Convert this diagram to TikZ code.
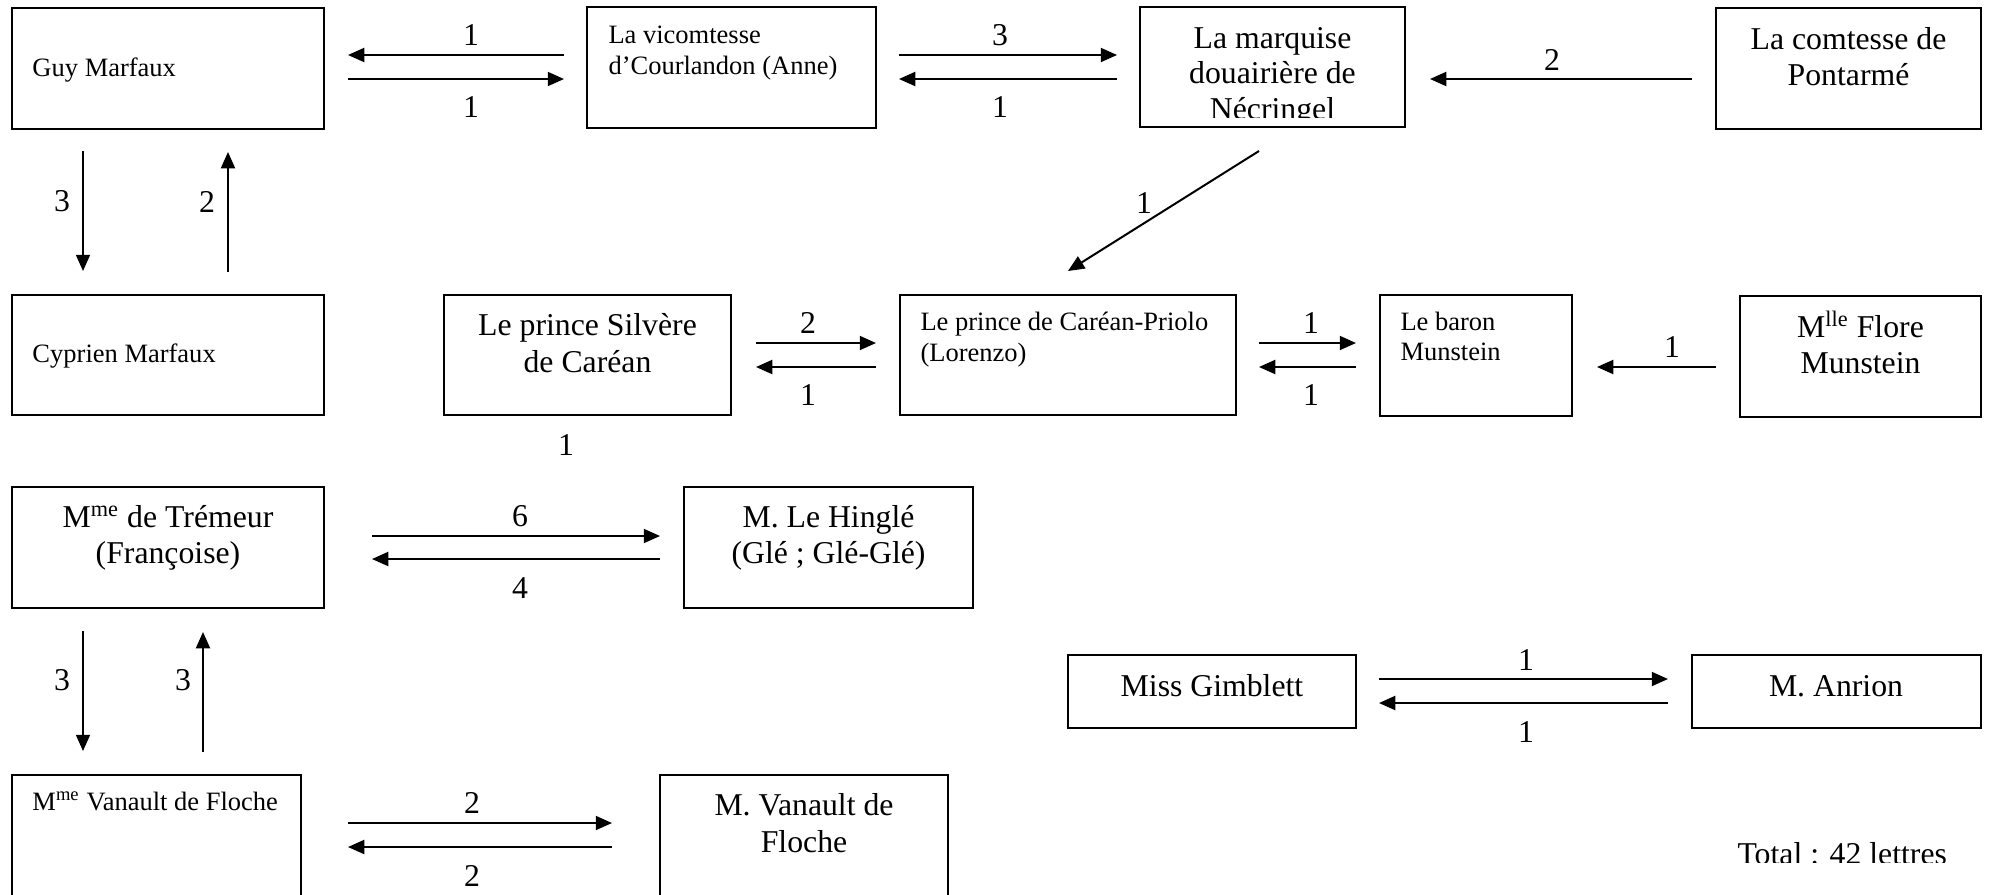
\documentclass[tikz,border=0pt]{standalone}
\usepackage{fontspec}
\setmainfont{Liberation Serif}
\usetikzlibrary{arrows.meta,calc,fit}

\begin{document}
\begin{tikzpicture}[x=0.4pt,y=-0.4pt,
  box/.style={draw, line width=0.8pt, inner sep=0pt, outer sep=0pt},
  arr/.style={line width=0.8pt, -{Triangle[length=6.5pt,width=5.6pt]}},
  sm/.style={inner sep=0pt, font=\fontsize{10.6}{12.4}\selectfont},
  lg/.style={inner sep=0pt, font=\fontsize{12.7}{14}\selectfont},
  num/.style={lg, anchor=base},
]
\useasboundingbox (0,0) rectangle (1991,894);
\clip (0,0) rectangle (1991,894);

% ---- boxes ----
\node[box, fit={(12,8) (324,129)}]     (guy)   {};
\node[box, fit={(587,7) (876,128)}]    (vic)   {};
\node[box, fit={(1140,7) (1405,127)}]  (marq)  {};
\node[box, fit={(1716,8) (1981,129)}]  (comt)  {};
\node[box, fit={(12,295) (324,415)}]   (cyp)   {};
\node[box, fit={(444,295) (731,415)}]  (silv)  {};
\node[box, fit={(900,295) (1236,415)}] (prio)  {};
\node[box, fit={(1380,295) (1572,416)}] (baron) {};
\node[box, fit={(1740,296) (1981,417)}] (flore) {};
\node[box, fit={(12,487) (324,608)}]   (trem)  {};
\node[box, fit={(684,487) (973,608)}]  (hing)  {};
\node[box, fit={(12,775) (301,920)}]   (mvan)  {};
\node[box, fit={(660,775) (948,920)}]  (vand)  {};
\node[box, fit={(1068,655) (1356,728)}] (miss) {};
\node[box, fit={(1692,655) (1981,728)}] (anr)  {};

% ---- box texts ----
\node[sm, anchor=base west] (guyA) at (32,76) {Guy Marfaux};
\node[sm, anchor=base west] (vicA) at (608,43) {La vicomtesse};
\node[sm, anchor=base west] (vicB) at (608,74) {d’Courlandon (Anne)};
\node[lg, anchor=base] (marqA) at (1272.5,48) {La marquise};
\node[lg, anchor=base] (marqB) at (1272.5,83) {douairière de};
\begin{scope}
  \clip (1140,7) rectangle (1405,117);
  \node[lg, anchor=base] (marqC) at (1272.5,119) {Nécringel};
\end{scope}
\node[lg, anchor=base] (comtA) at (1848.5,49) {La comtesse de};
\node[lg, anchor=base] (comtB) at (1848.5,85) {Pontarmé};
\node[sm, anchor=base west] (cypA) at (32,362) {Cyprien Marfaux};
\node[lg, anchor=base] (silvA) at (587.5,335) {Le prince Silvère};
\node[lg, anchor=base] (silvB) at (587.5,372) {de Caréan};
\node[sm, anchor=base west] (prioA) at (920,330) {Le prince de Caréan-Priolo};
\node[sm, anchor=base west] (prioB) at (920,361) {(Lorenzo)};
\node[sm, anchor=base west] (baronA) at (1400,330) {Le baron};
\node[sm, anchor=base west] (baronB) at (1400,360) {Munstein};
\node[lg, anchor=base] (floreA) at (1860.5,337) {M\textsuperscript{lle} Flore};
\node[lg, anchor=base] (floreB) at (1860.5,373) {Munstein};
\node[lg, anchor=base] (tremA) at (168,527) {M\textsuperscript{me} de Trémeur};
\node[lg, anchor=base] (tremB) at (168,563) {(Françoise)};
\node[lg, anchor=base] (hingA) at (828.5,527) {M. Le Hinglé};
\node[lg, anchor=base] (hingB) at (828.5,563) {(Glé ; Glé-Glé)};
\node[sm, anchor=base west] (mvanA) at (32,810) {M\textsuperscript{me} Vanault de Floche};
\node[lg, anchor=base] (vandA) at (804,815) {M. Vanault de};
\node[lg, anchor=base] (vandB) at (804,852) {Floche};
\node[lg, anchor=base] (missA) at (1212,696) {Miss Gimblett};
\node[lg, anchor=base] (anrA) at (1836,696) {M. Anrion};
\begin{scope}
  \clip (1700,830) rectangle (1991,862);
  \node[lg, anchor=base west] (total) at (1737,864) {Total : 42 lettres};
\end{scope}

% ---- connectors ----
% Guy Marfaux <-> vicomtesse
\draw[arr] ($(vic.west |- 0,55)+(-23,0)$) -- ($(guy.east |- 0,55)+(24,0)$);
\draw[arr] ($(guy.east |- 0,79)+(24,0)$) -- ($(vic.west |- 0,79)+(-23,0)$);
\node[num] (n1) at (471,45) {1};
\node[num] (n2) at (471,117) {1};
% vicomtesse <-> marquise
\draw[arr] ($(vic.east |- 0,55)+(23,0)$) -- ($(marq.west |- 0,55)+(-23,0)$);
\draw[arr] ($(marq.west |- 0,79)+(-23,0)$) -- ($(vic.east |- 0,79)+(23,0)$);
\node[num] (n3) at (1000,45) {3};
\node[num] (n4) at (1000,117) {1};
% comtesse -> marquise
\draw[arr] ($(comt.west |- 0,79)+(-24,0)$) -- ($(marq.east |- 0,79)+(25,0)$);
\node[num] (n5) at (1552,70) {2};
% marquise -> prince de Caréan-Priolo
\draw[arr] ($(marq.south)+(-13.5,24)$) -- ($(prio.north)+(0,-24)$);
\node[num] (n6) at (1144,213) {1};
% Guy <-> Cyprien
\draw[arr] ($(guy.south -| 83,0)+(0,22)$) -- ($(cyp.north -| 83,0)+(0,-24)$);
\draw[arr] ($(cyp.north -| 228,0)+(0,-23)$) -- ($(guy.south -| 228,0)+(0,23)$);
\node[num] (n7) at (62,211) {3};
\node[num] (n8) at (207,212) {2};
% Silvère <-> Priolo
\draw[arr] ($(silv.east |- 0,343)+(25,0)$) -- ($(prio.west |- 0,343)+(-24,0)$);
\draw[arr] ($(prio.west |- 0,367)+(-24,0)$) -- ($(silv.east |- 0,367)+(25,0)$);
\node[num] (n9) at (808,333) {2};
\node[num] (n10) at (808,405) {1};
\node[num] (n11) at (566,455) {1};
% Priolo <-> baron
\draw[arr] ($(prio.east |- 0,343)+(23,0)$) -- ($(baron.west |- 0,343)+(-24,0)$);
\draw[arr] ($(baron.west |- 0,367)+(-24,0)$) -- ($(prio.east |- 0,367)+(23,0)$);
\node[num] (n12) at (1311,333) {1};
\node[num] (n13) at (1311,405) {1};
% Flore -> baron
\draw[arr] ($(flore.west |- 0,367)+(-24,0)$) -- ($(baron.east |- 0,367)+(25,0)$);
\node[num] (n14) at (1672,357) {1};
% Trémeur <-> Hinglé
\draw[arr] ($(trem.east |- 0,536)+(48,0)$) -- ($(hing.west |- 0,536)+(-24,0)$);
\draw[arr] ($(hing.west |- 0,559)+(-24,0)$) -- ($(trem.east |- 0,559)+(48,0)$);
\node[num] (n15) at (520,526) {6};
\node[num] (n16) at (520,598) {4};
% Trémeur <-> Mme Vanault
\draw[arr] ($(trem.south -| 83,0)+(0,23)$) -- ($(mvan.north -| 83,0)+(0,-24)$);
\draw[arr] ($(mvan.north -| 203,0)+(0,-23)$) -- ($(trem.south -| 203,0)+(0,24)$);
\node[num] (n17) at (62,690) {3};
\node[num] (n18) at (183,690) {3};
% Mme Vanault <-> M. Vanault
\draw[arr] ($(mvan.east |- 0,823)+(47,0)$) -- ($(vand.west |- 0,823)+(-48,0)$);
\draw[arr] ($(vand.west |- 0,847)+(-48,0)$) -- ($(mvan.east |- 0,847)+(47,0)$);
\node[num] (n19) at (472,813) {2};
\node[num] (n20) at (472,886) {2};
% Miss Gimblett <-> M. Anrion
\draw[arr] ($(miss.east |- 0,679)+(23,0)$) -- ($(anr.west |- 0,679)+(-24,0)$);
\draw[arr] ($(anr.west |- 0,703)+(-24,0)$) -- ($(miss.east |- 0,703)+(23,0)$);
\node[num] (n21) at (1526,670) {1};
\node[num] (n22) at (1526,742) {1};
\end{tikzpicture}
\end{document}
